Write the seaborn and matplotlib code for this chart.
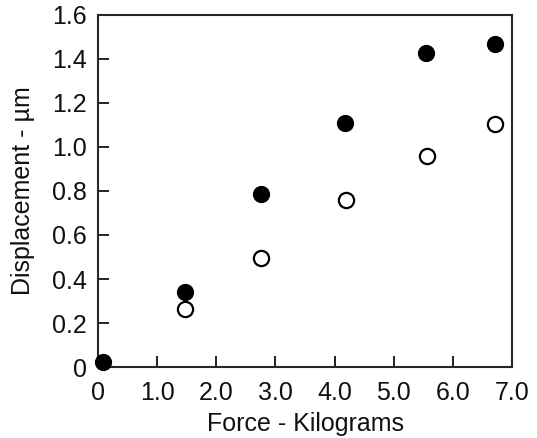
import matplotlib
matplotlib.use("Agg")
import matplotlib.pyplot as plt
import seaborn as sns
import pandas as pd

force_filled = [0.08, 1.47, 2.75, 4.18, 5.55, 6.72]
disp_filled = [0.025, 0.34, 0.785, 1.11, 1.425, 1.47]
force_open = [1.47, 2.75, 4.2, 5.56, 6.72]
disp_open = [0.265, 0.495, 0.76, 0.96, 1.105]

xticks = [0, 1, 2, 3, 4, 5, 6, 7]
xticklabels = ["0", "1.0", "2.0", "3.0", "4.0", "5.0", "6.0", "7.0"]
yticks = [0, 0.2, 0.4, 0.6, 0.8, 1.0, 1.2, 1.4, 1.6]
yticklabels = ["0", "0.2", "0.4", "0.6", "0.8", "1.0", "1.2", "1.4", "1.6"]

sns.set_style("ticks")
plt.rcParams['font.family'] = ['Liberation Sans', 'DejaVu Sans']

fig = plt.figure(figsize=(5.37, 4.38), dpi=100)
ax = fig.add_axes([0.1825, 0.162, 0.771, 0.804])

df_f = pd.DataFrame({"x": force_filled, "y": disp_filled})
df_o = pd.DataFrame({"x": force_open, "y": disp_open})

sns.scatterplot(data=df_o, x="x", y="y", ax=ax, s=120, color="white",
                edgecolor="black", linewidth=1.6, zorder=3, clip_on=False)
sns.scatterplot(data=df_f, x="x", y="y", ax=ax, s=130, color="black",
                edgecolor="black", linewidth=1, zorder=4, clip_on=False)

ax.set_xlim(0, 7)
ax.set_ylim(0, 1.6)
ax.set_xticks(xticks)
ax.set_xticklabels(xticklabels)
ax.set_yticks(yticks)
ax.set_yticklabels(yticklabels)
ax.tick_params(direction="in", length=8, width=1.3, labelsize=18, colors="#111111")
ax.tick_params(axis="x", pad=10)
ax.tick_params(axis="y", pad=8)
for sp in ax.spines.values():
    sp.set_linewidth(1.5)
    sp.set_visible(True)
ax.set_xlabel("Force - Kilograms", fontsize=18, labelpad=5, color="#111111")
ax.set_ylabel("Displacement - µm", fontsize=18, labelpad=12, color="#111111")

fig.savefig("out.png", dpi=100)
